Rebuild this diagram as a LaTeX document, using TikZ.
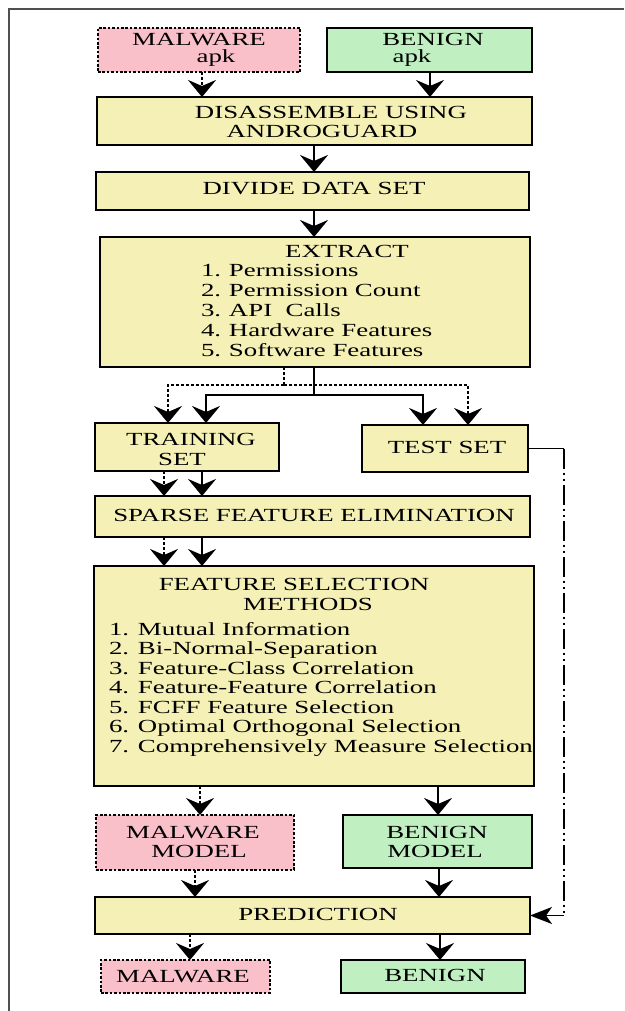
\documentclass[tikz,border=0pt]{standalone}
\usepackage{fontspec}
\setmainfont[FakeStretch=1.45]{Liberation Serif}
\usetikzlibrary{arrows.meta}
\definecolor{boxyellow}{HTML}{F5F1B6}
\definecolor{boxpink}{HTML}{F9C0CA}
\definecolor{boxgreen}{HTML}{C0F0C2}
\definecolor{framegray}{HTML}{505050}

\begin{document}
\begin{tikzpicture}[x=1pt,y=-1pt,
  every node/.style={inner sep=0pt, outer sep=0pt, font=\fontsize{18.5}{19.5}\selectfont},
  box/.style={draw=black, line width=2.8pt, rectangle},
  stage/.style={box, fill=boxyellow},
  malbox/.style={box, fill=boxpink, dash pattern=on 2.6pt off 1.8pt},
  benbox/.style={box, fill=boxgreen},
  lbl/.style={anchor=base},
  item/.style={anchor=base west},
  link/.style={line width=2.7pt},
  dlink/.style={line width=2.7pt, dash pattern=on 2.6pt off 2.4pt},
  flow/.style={link, -{Stealth[length=17pt,width=28pt,inset=6pt]}},
  dflow/.style={dlink, -{Stealth[length=17pt,width=28pt,inset=6pt]}},
  feed/.style={line width=1.5pt},
  feeddash/.style={feed, dash pattern=on 20pt off 4pt on 2pt off 4pt on 2pt off 4pt},
  feedarrow/.style={feed, -{Stealth[length=22pt,width=17pt,inset=6pt]}}
]
\useasboundingbox (0,0) rectangle (624,1011);

% page frame
\draw[framegray, line width=1.5pt] (624,9) -- (9,9) -- (9,1011);

% boxes
\node[malbox, minimum width=202pt, minimum height=44pt] (malapk) at (199,50) {};
\node[benbox, minimum width=205pt, minimum height=44pt] (benapk) at (429.5,50) {};
\node[stage, minimum width=435pt, minimum height=48pt] (disasm) at (314.5,121) {};
\node[stage, minimum width=433pt, minimum height=38pt] (divide) at (312.5,191) {};
\node[stage, minimum width=430pt, minimum height=130pt] (extract) at (315,302) {};
\node[stage, minimum width=184pt, minimum height=48pt] (train) at (187,447) {};
\node[stage, minimum width=166pt, minimum height=47pt] (test) at (445,448.5) {};
\node[stage, minimum width=435pt, minimum height=41pt] (sparse) at (312.5,516.5) {};
\node[stage, minimum width=440pt, minimum height=220pt] (fsel) at (314,676) {};
\node[malbox, minimum width=198pt, minimum height=55pt] (malmodel) at (195,842.5) {};
\node[benbox, minimum width=189pt, minimum height=53pt] (benmodel) at (437.5,841.5) {};
\node[stage, minimum width=435pt, minimum height=37pt] (pred) at (312.5,915.5) {};
\node[malbox, minimum width=169pt, minimum height=33pt] (malout) at (185.5,976.5) {};
\node[benbox, minimum width=184pt, minimum height=33pt] (benout) at (433,976.5) {};

% texts
\node[lbl] (tmal1) at (199,46) {MALWARE};
\node[lbl] (tmal2) at (216,63) {apk};
\node[lbl] (tben1) at (433,46) {BENIGN};
\node[lbl] (tben2) at (412,63) {apk};
\node[lbl] (tdis1) at (331,119) {DISASSEMBLE USING};
\node[lbl] (tdis2) at (322,138) {ANDROGUARD};
\node[lbl] (tdiv) at (314,194) {DIVIDE DATA SET};
\node[lbl] (text) at (347,257) {EXTRACT};
\foreach [count=\i] \t in {Permissions, Permission Count, {API\ \ Calls}, Hardware Features, Software Features}
  \node[item] (ex\i) at (201,{276+20*(\i-1)}) {\makebox[28pt][l]{\i.}\t};
\node[lbl] (ttr1) at (191,445) {TRAINING};
\node[lbl] (ttr2) at (182,465) {SET};
\node[lbl] (ttest) at (447,453) {TEST SET};
\node[lbl] (tsp) at (314,521) {SPARSE FEATURE ELIMINATION};
\node[lbl] (tfs1) at (294,590) {FEATURE SELECTION};
\node[lbl] (tfs2) at (308,610) {METHODS};
\foreach [count=\i] \t in {Mutual Information, Bi-Normal-Separation, Feature-Class Correlation, Feature-Feature Correlation, FCFF Feature Selection, Optimal Orthogonal Selection, Comprehensively Measure Selection}
  \node[item] (fs\i) at (109,{635+19.5*(\i-1)}) {\makebox[29pt][l]{\i.}\t};
\node[lbl] (tmm1) at (193,838) {MALWARE};
\node[lbl] (tmm2) at (199,857) {MODEL};
\node[lbl] (tbm1) at (437,838) {BENIGN};
\node[lbl] (tbm2) at (435,857) {MODEL};
\node[lbl] (tpred) at (318,920) {PREDICTION};
\node[lbl] (tmo) at (183,982) {MALWARE};
\node[lbl] (tbo) at (435,981) {BENIGN};

% arrow columns
\coordinate (c202) at (202,0);
\coordinate (c430) at (430,0);
\coordinate (c314) at (314,0);
\coordinate (c168) at (168,0);
\coordinate (c206) at (206,0);
\coordinate (c423) at (423,0);
\coordinate (c468) at (468,0);
\coordinate (c164) at (164,0);
\coordinate (c200) at (200,0);
\coordinate (c438) at (438,0);
\coordinate (c195) at (195,0);
\coordinate (c439) at (439,0);
\coordinate (c190) at (190,0);
\coordinate (c440) at (440,0);
\coordinate (c564) at (564,0);
\coordinate (js) at (314,395);
\coordinate (jd) at (284,385);

% connectors
\draw[dflow] (malapk.south -| c202) -- (disasm.north -| c202);
\draw[flow] (benapk.south -| c430) -- (disasm.north -| c430);
\draw[flow] (disasm.south -| c314) -- (divide.north -| c314);
\draw[flow] (divide.south -| c314) -- (extract.north -| c314);

\draw[dlink] (extract.south -| jd) -- (jd);
\draw[dflow] (jd) -| (train.north -| c168);
\draw[dflow] (jd) -| (test.north -| c468);
\draw[link] (extract.south -| js) -- (js);
\draw[flow] (js) -| (train.north -| c206);
\draw[flow] (js) -| (test.north -| c423);

\draw[dflow] (train.south -| c164) -- (sparse.north -| c164);
\draw[flow] (train.south -| c202) -- (sparse.north -| c202);
\draw[dflow] (sparse.south -| c164) -- (fsel.north -| c164);
\draw[flow] (sparse.south -| c202) -- (fsel.north -| c202);

\draw[dflow] (fsel.south -| c200) -- (malmodel.north -| c200);
\draw[flow] (fsel.south -| c438) -- (benmodel.north -| c438);
\draw[dflow] (malmodel.south -| c195) -- (pred.north -| c195);
\draw[flow] (benmodel.south -| c439) -- (pred.north -| c439);
\draw[dflow] (pred.south -| c190) -- (malout.north -| c190);
\draw[flow] (pred.south -| c440) -- (benout.north -| c440);

% test set feeds the prediction stage
\coordinate (tcorner) at (test.east -| c564);
\coordinate (tend) at (pred.east -| c564);
\draw[feed] (test.east) -- (tcorner);
\draw[feeddash] (tcorner) -- (tend);
\draw[feedarrow] (tend) -- (pred.east);
\end{tikzpicture}
\end{document}
